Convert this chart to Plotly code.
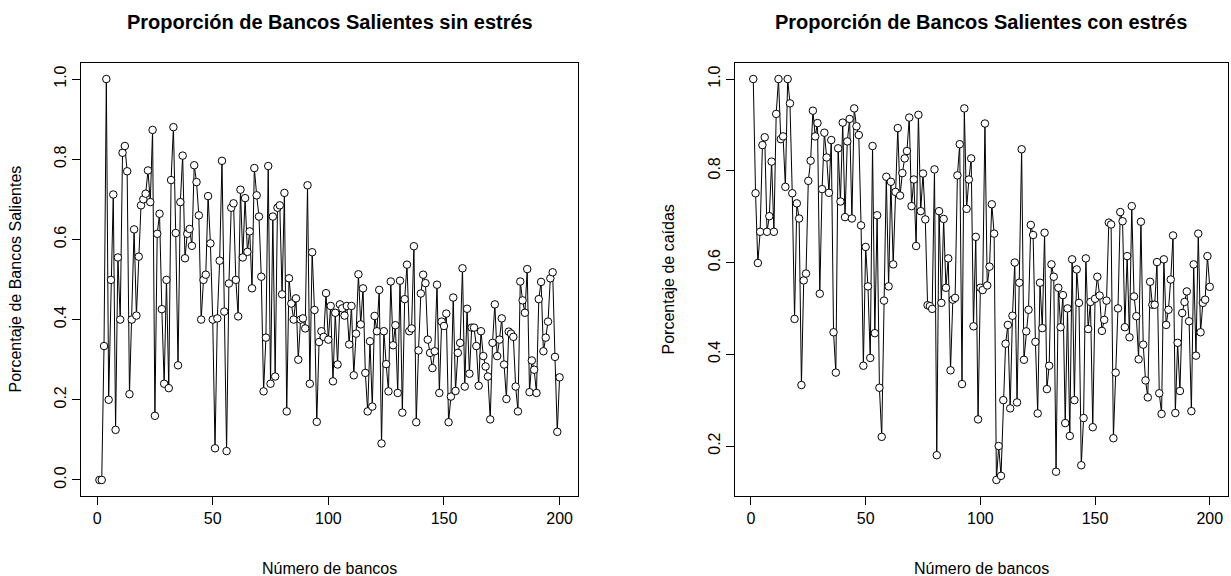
import plotly.graph_objects as go

# ---- data ----
sin_estres = [
    0, 0, 0.334, 1.0, 0.20, 0.499, 0.712, 0.125, 0.555, 0.40, 0.816, 0.833, 0.77, 0.214, 0.40,
    0.625, 0.41, 0.557, 0.685, 0.70, 0.714, 0.772, 0.693, 0.873, 0.16, 0.614, 0.664, 0.426,
    0.24, 0.499, 0.229, 0.748, 0.88,
    0.616, 0.286, 0.693, 0.809, 0.553, 0.614, 0.626, 0.584, 0.785, 0.743, 0.66, 0.40, 0.499,
    0.512, 0.708, 0.59, 0.40, 0.079, 0.403, 0.547, 0.796, 0.42, 0.072, 0.49, 0.679, 0.69,
    0.499, 0.408, 0.724, 0.555, 0.703, 0.569, 0.62, 0.478, 0.778,
    0.71, 0.657, 0.507, 0.221, 0.355, 0.783, 0.24, 0.657, 0.258, 0.679, 0.685, 0.463, 0.716,
    0.171, 0.503, 0.44, 0.40, 0.453, 0.30, 0.40, 0.403, 0.378, 0.735, 0.24, 0.568, 0.424,
    0.145, 0.344, 0.371, 0.357, 0.466, 0.35, 0.434, 0.246,
    0.417, 0.288, 0.438, 0.428, 0.41, 0.434, 0.338, 0.434, 0.261, 0.365, 0.513, 0.388, 0.478,
    0.267, 0.171, 0.346, 0.183, 0.409, 0.371, 0.474, 0.091, 0.371, 0.289, 0.221, 0.495, 0.336,
    0.386, 0.217, 0.497, 0.168, 0.451, 0.537, 0.371, 0.378, 0.583,
    0.144, 0.323, 0.465, 0.512, 0.491, 0.35, 0.317, 0.279, 0.321, 0.487, 0.217, 0.395, 0.384,
    0.415, 0.144, 0.208, 0.455, 0.222, 0.317, 0.342, 0.528, 0.233, 0.427, 0.265, 0.38, 0.38,
    0.334, 0.235, 0.371, 0.309, 0.283, 0.258, 0.151, 0.342,
    0.438, 0.309, 0.35, 0.403, 0.288, 0.202, 0.37, 0.365, 0.357, 0.233, 0.171, 0.495, 0.448,
    0.417, 0.526, 0.219, 0.298, 0.275, 0.217, 0.451, 0.494, 0.321, 0.355, 0.395, 0.503, 0.518,
    0.307, 0.12, 0.256,
]

con_estres = [
    1.0, 0.751, 0.599, 0.667, 0.856, 0.873, 0.667, 0.701, 0.82, 0.667, 0.924, 1.0, 0.869,
    0.875, 0.765, 1.0, 0.947, 0.751, 0.477, 0.729, 0.696, 0.333, 0.561, 0.576, 0.778, 0.822,
    0.931, 0.875,
    0.904, 0.532, 0.760, 0.883, 0.829, 0.752, 0.867, 0.448, 0.36, 0.849, 0.733, 0.905, 0.699,
    0.864, 0.913, 0.696, 0.936, 0.897, 0.878, 0.681, 0.375, 0.634, 0.548, 0.392, 0.854, 0.446,
    0.703, 0.327, 0.22, 0.517, 0.787, 0.548, 0.776, 0.596, 0.754, 0.893,
    0.746, 0.795, 0.827, 0.843, 0.916, 0.723, 0.781, 0.636, 0.922, 0.712, 0.794, 0.694, 0.507,
    0.505, 0.499, 0.803, 0.18, 0.712, 0.512, 0.695, 0.545, 0.609, 0.365, 0.519, 0.523, 0.79,
    0.858, 0.335, 0.936, 0.717, 0.781, 0.827,
    0.461, 0.656, 0.258, 0.545, 0.54, 0.903, 0.55, 0.591, 0.727, 0.663, 0.126, 0.20, 0.135,
    0.30, 0.423, 0.464, 0.282, 0.484, 0.6, 0.295, 0.556, 0.847, 0.388, 0.45, 0.497, 0.682,
    0.66, 0.427, 0.271, 0.556, 0.457, 0.665, 0.324, 0.375, 0.596,
    0.569, 0.144, 0.545, 0.459, 0.529, 0.25, 0.5, 0.222, 0.607, 0.3, 0.585, 0.512, 0.158,
    0.261, 0.609, 0.455, 0.514, 0.241, 0.521, 0.569, 0.528, 0.451, 0.475, 0.517, 0.687, 0.683,
    0.217, 0.36, 0.5, 0.71, 0.69, 0.459, 0.614, 0.437,
    0.723, 0.526, 0.483, 0.389, 0.689, 0.421, 0.343, 0.306, 0.558, 0.508, 0.508, 0.601, 0.315,
    0.27, 0.607, 0.464, 0.497, 0.563, 0.659, 0.272, 0.425, 0.32, 0.49, 0.514, 0.537, 0.472,
    0.276, 0.596, 0.397, 0.663, 0.448, 0.512, 0.519, 0.614, 0.547,
]

bancos_sin = list(range(1, len(sin_estres) + 1))
bancos_con = list(range(1, len(con_estres) + 1))

titulo_izq = "Proporción de Bancos Salientes sin estrés"
titulo_der = "Proporción de Bancos Salientes con estrés"
xlabel = "Número de bancos"
ylabel_izq = "Porcentaje de Bancos Salientes"
ylabel_der = "Porcentaje de caídas"

xticks = [0, 50, 100, 150, 200]
yticks_izq = [0.0, 0.2, 0.4, 0.6, 0.8, 1.0]
yticks_der = [0.2, 0.4, 0.6, 0.8, 1.0]

# ---- layout geometry ----
W, H = 1231, 576
FONT = "Liberation Sans, Arial, sans-serif"
left_box = (81, 578)
right_box = (735, 1228)
top_px, bot_px = 63, 496

def xd(b):
    return [b[0] / W, b[1] / W]

ydom = [1 - bot_px / H, 1 - top_px / H]

fig = go.Figure()
marker = dict(symbol="circle", size=7.5, color="white", line=dict(color="black", width=1))
fig.add_trace(go.Scatter(x=bancos_sin, y=sin_estres, mode="lines+markers",
                         line=dict(color="black", width=1), marker=marker,
                         xaxis="x", yaxis="y", showlegend=False))
fig.add_trace(go.Scatter(x=bancos_con, y=con_estres, mode="lines+markers",
                         line=dict(color="black", width=1), marker=marker,
                         xaxis="x2", yaxis="y2", showlegend=False))

def rng(vals):
    lo, hi = min(vals), max(vals)
    pad = 0.04 * (hi - lo)
    return [lo - pad, hi + pad]

axcommon = dict(showline=True, mirror=True, linecolor="black", linewidth=1,
                ticks="outside", ticklen=8, tickcolor="black", showgrid=False,
                zeroline=False, automargin=False,
                tickfont=dict(family=FONT, size=16, color="black"))

fig.update_layout(
    width=W, height=H, margin=dict(l=0, r=0, t=0, b=0),
    paper_bgcolor="white", plot_bgcolor="white",
    xaxis=dict(domain=xd(left_box), range=rng(bancos_sin), tickvals=xticks, anchor="y", **axcommon),
    yaxis=dict(domain=ydom, range=rng(sin_estres), tickvals=yticks_izq, tickformat=".1f",
               tickangle=-90, anchor="x", **axcommon),
    xaxis2=dict(domain=xd(right_box), range=rng(bancos_con), tickvals=xticks, anchor="y2", **axcommon),
    yaxis2=dict(domain=ydom, range=rng(con_estres), tickvals=yticks_der, tickformat=".1f",
                tickangle=-90, anchor="x2", **axcommon),
)

def ann(text, x, y, size, bold=False, angle=0):
    return dict(text=f"<b>{text}</b>" if bold else text, x=x / W, y=1 - y / H,
                xref="paper", yref="paper", showarrow=False, textangle=angle,
                xanchor="center", yanchor="middle",
                font=dict(family=FONT, size=size, color="black"))

cl = (left_box[0] + left_box[1]) / 2
cr = (right_box[0] + right_box[1]) / 2
cy = (top_px + bot_px) / 2
fig.update_layout(annotations=[
    ann(titulo_izq, cl, 22, 20, bold=True),
    ann(titulo_der, cr, 22, 20, bold=True),
    ann(xlabel, cl, 568, 16),
    ann(xlabel, cr, 568, 16),
    ann(ylabel_izq, 15, cy, 16, angle=-90),
    ann(ylabel_der, 668, cy, 16, angle=-90),
])

fig.write_html("out.html")
